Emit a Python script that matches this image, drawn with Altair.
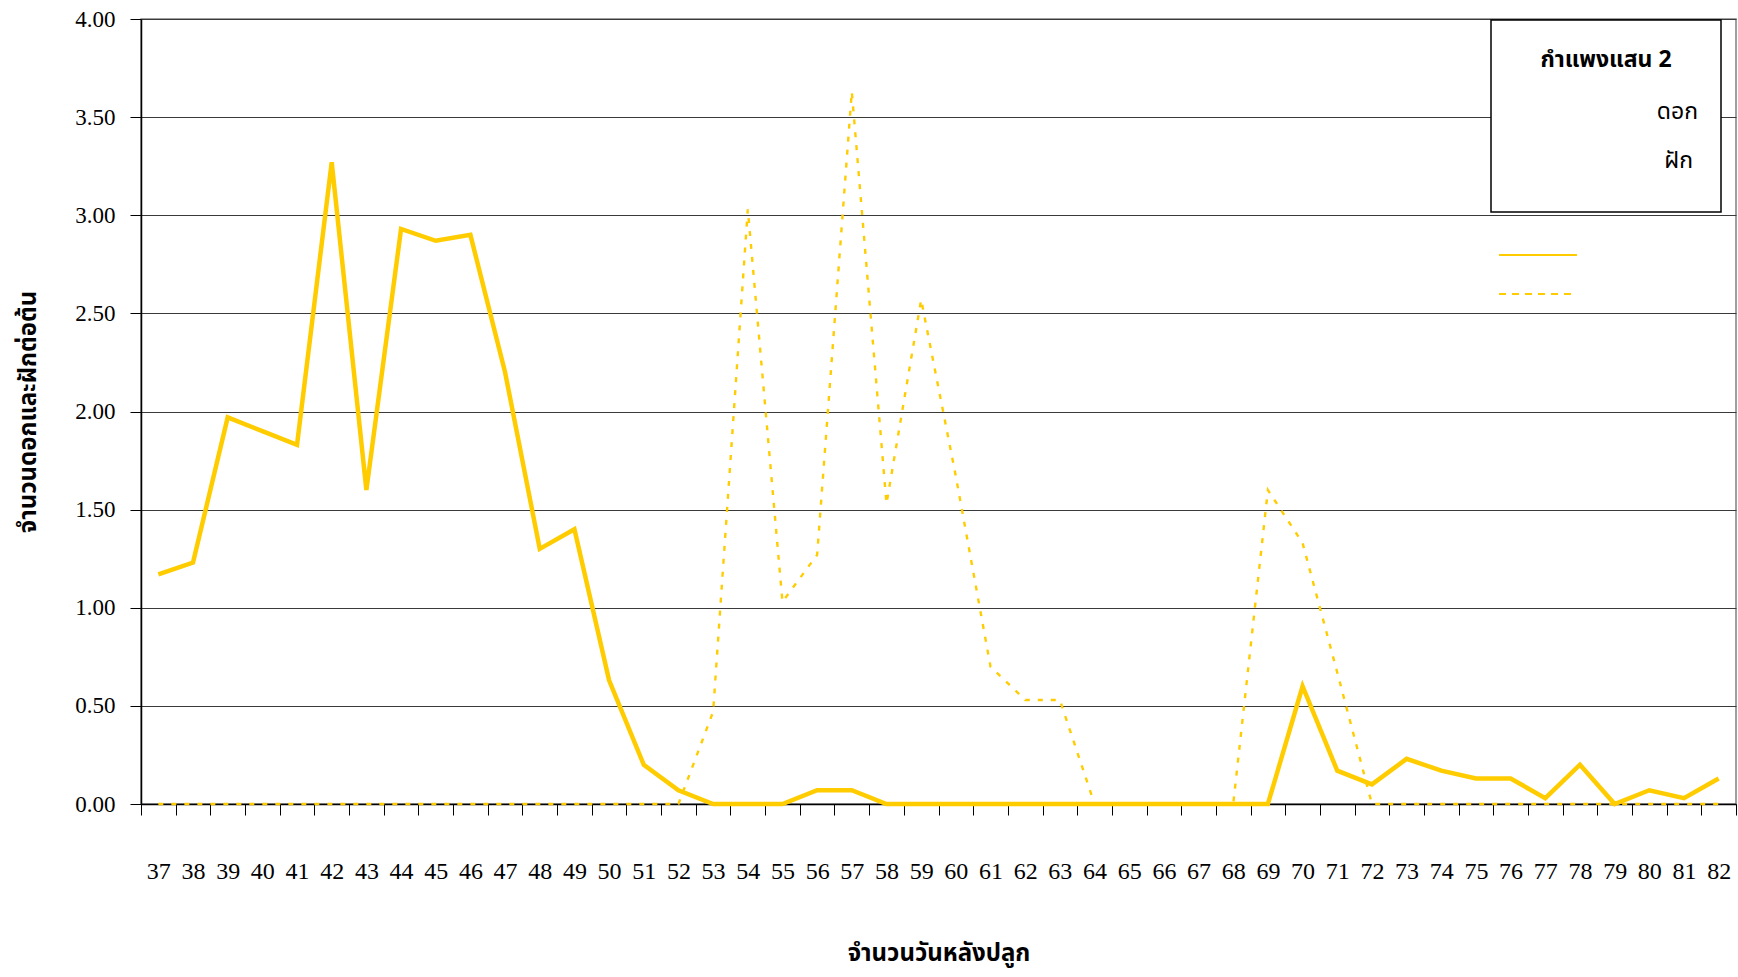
import altair as alt
import pandas as pd

days = list(range(37, 83))
flowers = [1.17, 1.23, 1.97, 1.90, 1.83, 3.27, 1.60, 2.93, 2.87, 2.90, 2.20, 1.30, 1.40, 0.63, 0.20, 0.07,
           0, 0, 0, 0.07, 0.07,
           0, 0, 0, 0, 0, 0, 0, 0, 0, 0, 0, 0,
           0.60, 0.17, 0.10, 0.23, 0.17, 0.13, 0.13, 0.03, 0.20, 0, 0.07, 0.03, 0.13]
pods = [0] * 16 + [0.47, 3.03, 1.03, 1.27, 3.63, 1.53, 2.57, 1.67, 0.70, 0.53, 0.53,
                   0, 0, 0, 0, 0,
                   1.60, 1.33, 0.67] + [0] * 11
y_ticks = [0, 0.5, 1.0, 1.5, 2.0, 2.5, 3.0, 3.5, 4.0]
legend_title = "กำแพงแสน 2"
series_names = ["ดอก", "ฝัก"]
x_title = "จำนวนวันหลังปลูก"
y_title = "จำนวนดอกและฝักต่อต้น"

df = pd.DataFrame({"day": [str(d) for d in days], "flowers": flowers, "pods": pods})
one = pd.DataFrame({"k": [0]})

COLOR = "#FFCC00"
THAI = "Tahoma, Noto Sans Thai, Loma, Garuda, Noto Sans, DejaVu Sans, sans-serif"

x_enc = alt.X(
    "day:O",
    sort=[str(d) for d in days],
    bandPosition=0.5,
    scale=alt.Scale(type="band", paddingInner=0, paddingOuter=0),
    axis=alt.Axis(
        title=x_title, tickBand="extent", tickSize=11, tickColor="black", domainColor="black",
        domainWidth=1.5, labelAngle=0, labelFont="Liberation Serif", labelFontSize=24,
        labelColor="black", labelPadding=44, grid=False,
        titleFont=THAI, titleFontSize=24, titleFontWeight="bold", titleColor="black",
        titleY=149, titleBaseline="middle",
    ),
)
y_scale = alt.Scale(domain=[0, 4], nice=False)
y_axis = alt.Axis(
    title=y_title, values=y_ticks, format=".2f", grid=True, gridColor="#3a3a3a", gridWidth=1,
    tickSize=11, tickColor="black", domainColor="black", domainWidth=1.5,
    labelFont="Liberation Serif", labelFontSize=23, labelColor="black", labelPadding=15,
    titleFont=THAI, titleFontSize=24, titleFontWeight="bold", titleColor="black",
    titleX=-113, titleBaseline="middle",
)

flower_line = alt.Chart(df).mark_line(color=COLOR, strokeWidth=4.5, strokeJoin="miter").encode(
    x=x_enc, y=alt.Y("flowers:Q", scale=y_scale, axis=y_axis)
)
pod_line = alt.Chart(df).mark_line(color=COLOR, strokeWidth=2.4, strokeDash=[5, 8]).encode(
    x=x_enc, y=alt.Y("pods:Q", scale=y_scale)
)

box = alt.Chart(one).mark_rect(fill="white", stroke="black", strokeWidth=1.5).encode(
    x=alt.value(1350), x2=alt.value(1580), y=alt.value(1), y2=alt.value(193)
)
t_title = alt.Chart(one).mark_text(font=THAI, fontSize=23, fontWeight="bold", color="black",
                                   align="center", baseline="alphabetic").encode(
    x=alt.value(1465), y=alt.value(48), text=alt.value(legend_title)
)
t_flower = alt.Chart(one).mark_text(font=THAI, fontSize=23, color="black",
                                    align="right", baseline="alphabetic").encode(
    x=alt.value(1557), y=alt.value(100), text=alt.value(series_names[0])
)
t_pod = alt.Chart(one).mark_text(font=THAI, fontSize=23, color="black",
                                 align="right", baseline="alphabetic").encode(
    x=alt.value(1552), y=alt.value(149), text=alt.value(series_names[1])
)
leg_solid = alt.Chart(one).mark_rule(color=COLOR, strokeWidth=2).encode(
    x=alt.value(1358), x2=alt.value(1436), y=alt.value(236)
)
leg_dash = alt.Chart(one).mark_rule(color=COLOR, strokeWidth=2, strokeDash=[7, 6]).encode(
    x=alt.value(1358), x2=alt.value(1436), y=alt.value(275)
)

chart = alt.layer(
    flower_line, pod_line, box, t_title, t_flower, t_pod, leg_solid, leg_dash
).properties(
    width=1595, height=785,
    autosize=alt.AutoSizeParams(type="none"),
    padding={"left": 141, "top": 19, "right": 2, "bottom": 173},
    background="white",
).configure_view(stroke="#808080", strokeWidth=1.5)

chart.save("out.html", embed_options={"renderer": "svg", "actions": False})
